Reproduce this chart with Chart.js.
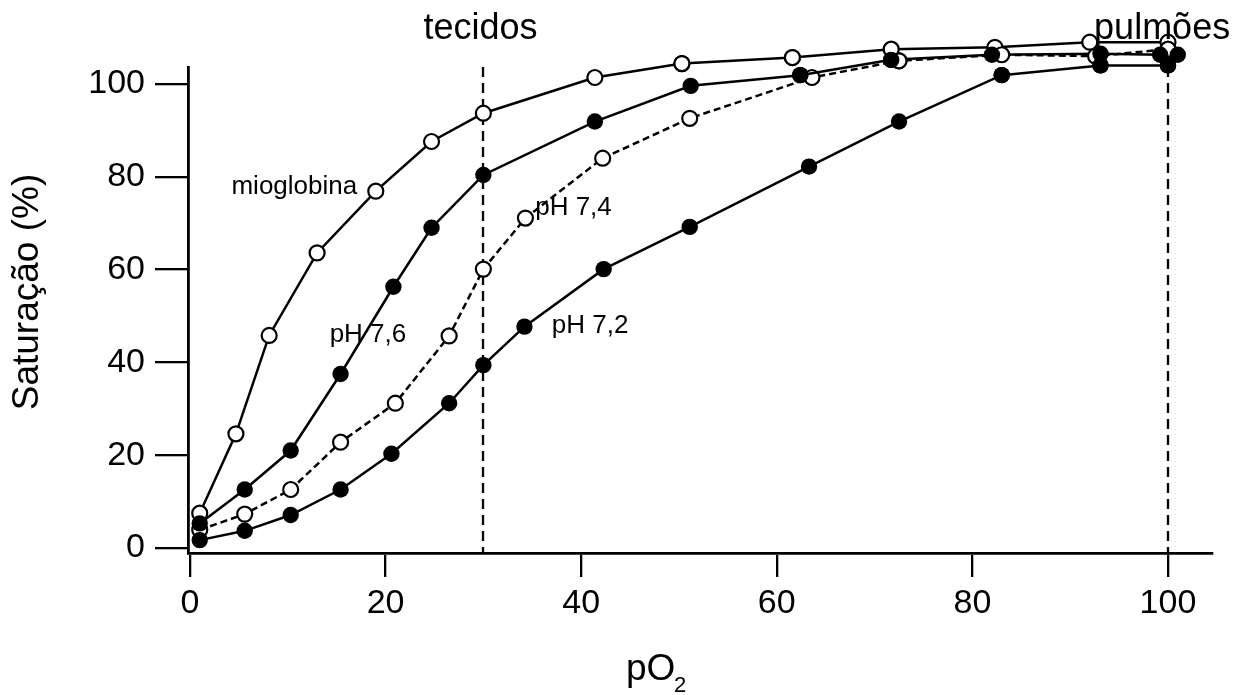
<!DOCTYPE html>
<html><head><meta charset="utf-8">
<script src="https://cdn.jsdelivr.net/npm/chart.js@4.4.0/dist/chart.umd.min.js"></script>
<style>html,body{margin:0;padding:0;background:#fff;} canvas{display:block;}</style>
</head><body>
<canvas id="c" width="1240" height="695"></canvas>
<script>
// ---- data ----
const xTickValues = [0, 20, 40, 60, 80, 100];
const yTickValues = [0, 20, 40, 60, 80, 100];

const mioglobinaX = [1, 4.7, 8.1, 13.0, 19.0, 24.7, 30, 41.4, 50.3, 61.6, 71.7, 82.3, 92.0, 100];
const mioglobinaY = [7.5, 24.6, 45.8, 63.6, 76.9, 87.6, 93.7, 101.4, 104.4, 105.7, 107.5, 107.9, 109.0, 109.0];

const ph76X = [1, 5.6, 10.3, 15.4, 20.8, 24.7, 30, 41.4, 51.2, 62.4, 71.7, 82.0, 93.1, 99.2, 101.0];
const ph76Y = [5.3, 12.6, 21.0, 37.5, 56.3, 69.0, 80.4, 91.9, 99.6, 101.9, 105.2, 106.3, 106.5, 106.3, 106.3];

const ph74X = [1, 5.6, 10.3, 15.4, 21.0, 26.5, 30, 34.3, 42.2, 51.1, 63.6, 72.5, 83.0, 92.6, 100];
const ph74Y = [3.9, 7.3, 12.6, 22.8, 31.2, 45.7, 60.1, 71.1, 84.0, 92.6, 101.4, 105.0, 106.3, 106.0, 107.5];

const ph72X = [1, 5.6, 10.3, 15.4, 20.6, 26.5, 30, 34.2, 42.3, 51.1, 63.3, 72.5, 83.0, 93.1, 100];
const ph72Y = [1.7, 3.7, 7.1, 12.6, 20.3, 31.2, 39.4, 47.7, 60.1, 69.2, 82.2, 91.9, 101.9, 104.0, 104.0];

const TISSUE_PO2 = 30;   // "tecidos"
const LUNG_PO2 = 100;    // "pulmões"

// ---- layout / style ----
const FONT = '"Liberation Sans", Arial, Helvetica, sans-serif';
const X_MIN = -0.2, X_MAX = 104.5;
const Y_MIN = -1.08, Y_MAX = 103.66;

function pts(xs, ys) { return xs.map((x, i) => ({ x: x, y: ys[i] })); }

const openStyle = { pointRadius: 7.5, pointBorderWidth: 2.2, pointBackgroundColor: '#fff', pointBorderColor: '#000' };
const filledStyle = { pointRadius: 8.2, pointBorderWidth: 0, pointBackgroundColor: '#000', pointBorderColor: '#000' };

const annot = {
  id: 'annot',
  beforeDatasetsDraw(chart) {
    const { ctx, chartArea, scales } = chart;
    ctx.save();
    ctx.strokeStyle = '#000';
    ctx.lineWidth = 2.3;
    ctx.setLineDash([10, 6]);
    [TISSUE_PO2, LUNG_PO2].forEach(v => {
      const px = Math.round(scales.x.getPixelForValue(v));
      ctx.beginPath();
      ctx.moveTo(px, chartArea.top);
      ctx.lineTo(px, chartArea.bottom);
      ctx.stroke();
    });
    ctx.restore();
  },
  afterDatasetsDraw(chart) {
    const { ctx, scales, chartArea } = chart;
    // let the library's point elements draw the markers that lie above the axis top
    const full = { left: 0, top: 0, right: chart.width, bottom: chart.height };
    const metas = chart.getSortedVisibleDatasetMetas();
    for (let i = metas.length - 1; i >= 0; i--) {
      metas[i].data.forEach(el => {
        if (el.y < chartArea.top + 10) el.draw(ctx, full);
      });
    }
    const X = v => scales.x.getPixelForValue(v);
    const Y = v => scales.y.getPixelForValue(v);
    ctx.save();
    ctx.fillStyle = '#000';
    ctx.textBaseline = 'middle';
    // top labels
    ctx.font = '36px ' + FONT;
    ctx.textAlign = 'center';
    ctx.fillText('tecidos', X(29.7), 29);
    ctx.fillText('pulmões', X(99.4), 29);
    // curve labels
    ctx.font = '26px ' + FONT;
    ctx.textAlign = 'right';
    ctx.fillText('mioglobina', X(17.1), Y(77.8));
    ctx.textAlign = 'left';
    ctx.fillText('pH 7,4', X(35.3), Y(73.3));
    ctx.fillText('pH 7,2', X(37.0), Y(47.8));
    ctx.textAlign = 'center';
    ctx.fillText('pH 7,6', X(18.2), Y(45.9));
    // axis titles
    ctx.font = '37px ' + FONT;
    ctx.save();
    ctx.translate(28, 292);
    ctx.rotate(-Math.PI / 2);
    ctx.textAlign = 'center';
    ctx.fillText('Saturação (%)', 0, 0);
    ctx.restore();
    ctx.textAlign = 'left';
    ctx.textBaseline = 'alphabetic';
    ctx.font = '37px ' + FONT;
    ctx.fillText('pO', 626, 680);
    ctx.font = '22px ' + FONT;
    ctx.fillText('2', 674, 692);
    ctx.restore();
  }
};

new Chart(document.getElementById('c'), {
  type: 'line',
  data: {
    datasets: [
      Object.assign({ label: 'pH 7,6', data: pts(ph76X, ph76Y), borderColor: '#000', borderWidth: 2.5, fill: false, tension: 0, clip: false }, filledStyle),
      Object.assign({ label: 'pH 7,2', data: pts(ph72X, ph72Y), borderColor: '#000', borderWidth: 2.5, fill: false, tension: 0, clip: false }, filledStyle),
      Object.assign({ label: 'pH 7,4', data: pts(ph74X, ph74Y), borderColor: '#000', borderWidth: 2.5, borderDash: [7, 4], fill: false, tension: 0, clip: false }, openStyle),
      Object.assign({ label: 'mioglobina', data: pts(mioglobinaX, mioglobinaY), borderColor: '#000', borderWidth: 2.5, fill: false, tension: 0, clip: false }, openStyle)
    ]
  },
  options: {
    responsive: false,
    animation: false,
    devicePixelRatio: 1,
    layout: { padding: { top: 67, right: 28, left: 0, bottom: 0 } },
    plugins: { legend: { display: false }, tooltip: { enabled: false }, title: { display: false } },
    font: { family: FONT },
    scales: {
      x: {
        type: 'linear', min: X_MIN, max: X_MAX,
        afterBuildTicks: s => { s.ticks = xTickValues.map(v => ({ value: v })); },
        afterFit: s => { s.height = 142; },
        ticks: { color: '#000', font: { size: 34, family: FONT }, padding: 6, maxRotation: 0, autoSkip: false },
        grid: { display: true, drawOnChartArea: false, drawTicks: true, tickLength: 24, color: '#000', lineWidth: 2.3 },
        border: { display: true, color: '#000', width: 2.8 }
      },
      y: {
        type: 'linear', min: Y_MIN, max: Y_MAX,
        afterBuildTicks: s => { s.ticks = yTickValues.map(v => ({ value: v })); },
        afterFit: s => { s.width = 188; },
        ticks: { color: '#000', font: { size: 34, family: FONT }, padding: 10, autoSkip: false },
        grid: { display: true, drawOnChartArea: false, drawTicks: true, tickLength: 33, color: '#000', lineWidth: 2.3 },
        border: { display: true, color: '#000', width: 2.8 }
      }
    }
  },
  plugins: [annot]
});
</script>
</body></html>
